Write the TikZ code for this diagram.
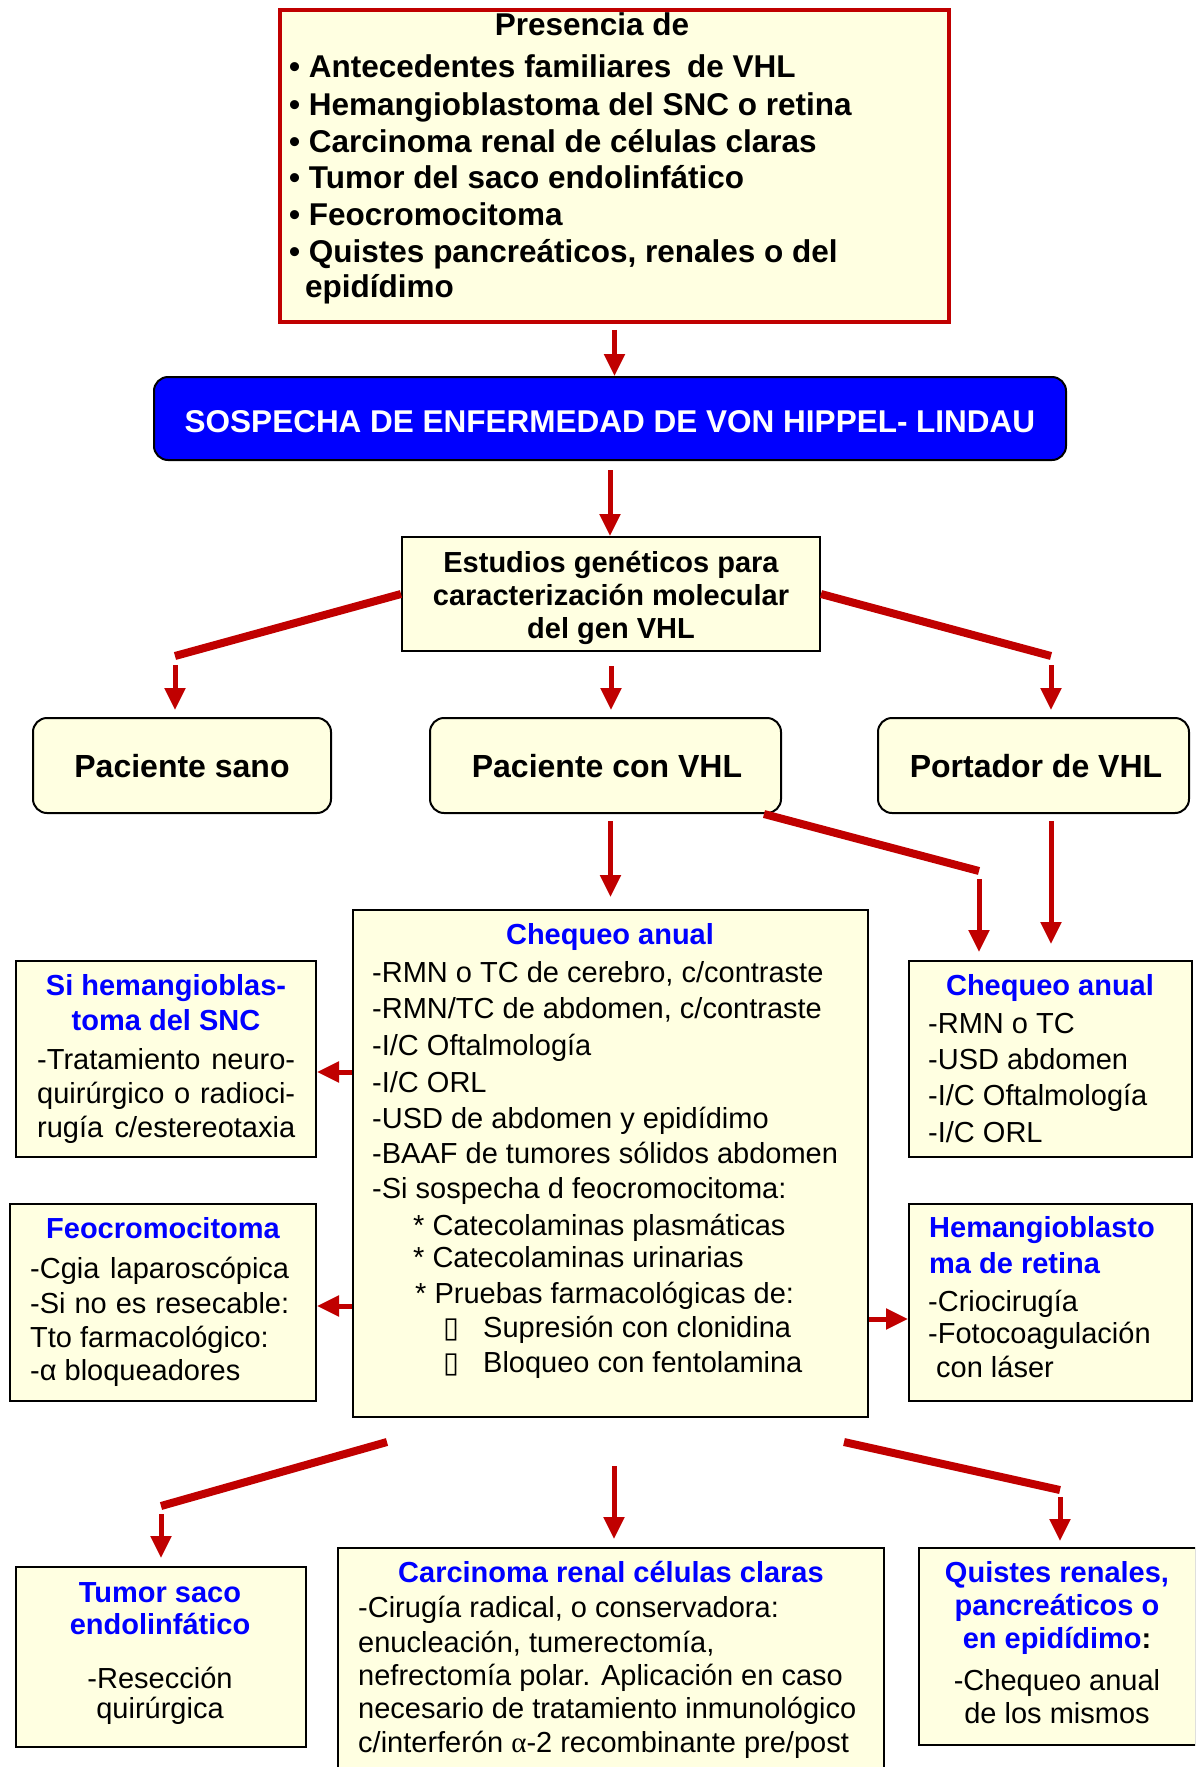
\documentclass[tikz,border=0pt]{standalone}
\usepackage{fontspec}
\setmainfont{Liberation Sans}
\newfontfamily\dvs{DejaVu Sans}
\newfontfamily\serifa{Liberation Serif}
\usetikzlibrary{arrows.meta,fit}
\definecolor{cream}{HTML}{FFFFE1}
\definecolor{arrred}{HTML}{C00000}
\definecolor{pureblue}{HTML}{0000FF}
\begin{document}
\begin{tikzpicture}[x=1pt,y=-1pt,
 box/.style={draw=black, line width=2pt, fill=cream, inner sep=0pt},
 rbox/.style={box, rounded corners=14pt},
 arr/.style={draw=arrred, line width=5pt, -{Triangle[width=20pt,length=22pt]}},
 diag/.style={draw=arrred, line width=8pt},
 T/.style={inner sep=0pt, anchor=base},
 TL/.style={inner sep=0pt, anchor=base west},
 f29/.style={font=\fontsize{29}{35}\selectfont},
 b29/.style={font=\fontsize{29}{35}\selectfont\bfseries},
 b31/.style={font=\fontsize{31.5}{37}\selectfont\bfseries},
 b32/.style={font=\fontsize{32}{37}\selectfont\bfseries},
 blu/.style={b29, text=pureblue},
]
\useasboundingbox (0,0) rectangle (1195,1767);
\clip (0,0) rectangle (1195,1767);
\fill[white] (0,0) rectangle (1195,1767);

% ---------- boxes ----------
\node[fit={(280,10)(949,322)}, box, draw=arrred, line width=3.5pt] (top) {};
\node[fit={(154,377)(1066,460)}, box, fill=pureblue, rounded corners=14pt] (sos) {};
\node[fit={(402,537)(820,651)}, box] (est) {};
\node[fit={(33,718)(331,813)}, rbox] (sano) {};
\node[fit={(430,718)(781,813)}, rbox] (con) {};
\node[fit={(878,718)(1189,813)}, rbox] (port) {};
\node[fit={(353,910)(868,1417)}, box] (big) {};
\node[fit={(16,961)(316,1157)}, box] (l1) {};
\node[fit={(10,1204)(316,1401)}, box] (feo) {};
\node[fit={(909,961)(1192,1157)}, box] (r1) {};
\node[fit={(909,1204)(1192,1401)}, box] (r2) {};
\node[fit={(16,1567)(306,1747)}, box] (tum) {};
\node[fit={(338,1548)(884,1800)}, box] (carc) {};
\node[fit={(919,1548)(1196,1745)}, box] (quis) {};

% ---------- texts ----------
\node[T,b31] (tp0) at (592,35) {Presencia de};
\node[TL,b31] (tp1) at (289,77) {• Antecedentes familiares\hspace{7pt} de VHL};
\node[TL,b31] (tp2) at (289,115) {• Hemangioblastoma del SNC o retina};
\node[TL,b31] (tp3) at (289,152) {• Carcinoma renal de células claras};
\node[TL,b31] (tp4) at (289,188) {• Tumor del saco endolinfático};
\node[TL,b31] (tp5) at (289,225) {• Feocromocitoma};
\node[TL,b31] (tp6) at (289,262) {• Quistes pancreáticos, renales o del};
\node[TL,b31] (tp7) at (305,297) {epidídimo};

\node[T,b31,text=white] (sost) at (610,432) {SOSPECHA DE ENFERMEDAD DE VON HIPPEL- LINDAU};

\node[T,b29] (es1) at (611,572) {Estudios genéticos para};
\node[T,b29] (es2) at (611,605) {caracterización molecular};
\node[T,b29] (es3) at (611,638) {del gen VHL};

\node[T,b32] (sanot) at (182,777) {Paciente sano};
\node[T,b32] (cont) at (607,777) {Paciente con VHL};
\node[T,b32] (portt) at (1036,777) {Portador de VHL};

\node[T,blu] (bg0) at (610,944) {Chequeo anual};
\node[TL,f29] (bg1) at (372,982) {-RMN o TC de cerebro, c/contraste};
\node[TL,f29] (bg2) at (372,1018) {-RMN/TC de abdomen, c/contraste};
\node[TL,f29] (bg3) at (372,1055) {-I/C Oftalmología};
\node[TL,f29] (bg4) at (372,1092) {-I/C ORL};
\node[TL,f29] (bg5) at (372,1128) {-USD de abdomen y epidídimo};
\node[TL,f29] (bg6) at (372,1163) {-BAAF de tumores sólidos abdomen};
\node[TL,f29] (bg7) at (372,1198) {-Si sospecha d feocromocitoma:};
\node[TL,f29] (bg8) at (413,1235) {* Catecolaminas plasmáticas};
\node[TL,f29] (bg9) at (413,1267) {* Catecolaminas urinarias};
\node[TL,f29] (bg10) at (415,1303) {* Pruebas farmacológicas de:};
\node[TL,f29] (bg11a) at (443,1337) {\dvs ▯};
\node[TL,f29] (bg11) at (483,1337) {Supresión con clonidina};
\node[TL,f29] (bg12a) at (443,1372) {\dvs ▯};
\node[TL,f29] (bg12) at (483,1372) {Bloqueo con fentolamina};

\node[T,blu] (l1t1) at (166,995) {Si hemangioblas-};
\node[T,blu] (l1t2) at (166,1030) {toma del SNC};
\node[TL,f29] (l1b1) at (37,1069) {\makebox[258pt][s]{-Tratamiento neuro-}};
\node[TL,f29] (l1b2) at (37,1103) {\makebox[258pt][s]{quirúrgico o radioci-}};
\node[TL,f29] (l1b3) at (37,1137) {\makebox[258pt][s]{rugía c/estereotaxia}};

\node[T,blu] (feot) at (163,1238) {Feocromocitoma};
\node[TL,f29] (feo1) at (30,1278) {\makebox[259pt][s]{-Cgia laparoscópica}};
\node[TL,f29] (feo2) at (30,1313) {\makebox[259pt][s]{-Si no es resecable:}};
\node[TL,f29] (feo3) at (30,1347) {Tto farmacológico:};
\node[TL,f29] (feo4) at (30,1380) {-α bloqueadores};

\node[T,blu] (r1t) at (1050,995) {Chequeo anual};
\node[TL,f29] (r1a) at (928,1033) {-RMN o TC};
\node[TL,f29] (r1b) at (928,1069) {-USD abdomen};
\node[TL,f29] (r1c) at (928,1105) {-I/C Oftalmología};
\node[TL,f29] (r1d) at (928,1142) {-I/C ORL};

\node[TL,blu] (r2t1) at (929,1237) {Hemangioblasto};
\node[TL,blu] (r2t2) at (929,1273) {ma de retina};
\node[TL,f29] (r2a) at (928,1311) {-Criocirugía};
\node[TL,f29] (r2b) at (928,1343) {-Fotocoagulación};
\node[TL,f29] (r2c) at (936,1377) {con láser};

\node[T,blu] (tut1) at (160,1602) {Tumor saco};
\node[T,blu] (tut2) at (160,1634) {endolinfático};
\node[T,f29] (tub1) at (160,1688) {-Resección};
\node[T,f29] (tub2) at (160,1718) {quirúrgica};

\node[T,blu] (cat) at (611,1582) {Carcinoma renal células claras};
\node[TL,f29] (ca1) at (358,1617) {-Cirugía radical, o conservadora:};
\node[TL,f29] (ca2) at (358,1652) {enucleación, tumerectomía,};
\node[TL,f29] (ca3) at (358,1685) {nefrectomía polar. Aplicación en caso};
\node[TL,f29] (ca4) at (358,1718) {necesario de tratamiento inmunológico};
\node[TL,f29] (ca5) at (358,1752) {c/interferón {\serifa α}-2 recombinante pre/post};

\node[T,blu] (qt1) at (1057,1582) {Quistes renales,};
\node[T,blu] (qt2) at (1057,1615) {pancreáticos o};
\node[T,blu] (qt3) at (1057,1648) {en epidídimo\textcolor{black}{:}};
\node[T,f29] (qb1) at (1057,1690) {-Chequeo anual};
\node[T,f29] (qb2) at (1057,1723) {de los mismos};

% ---------- connectors ----------
\coordinate (dL) at (175,656);
\coordinate (dR) at (1051,656);
\coordinate (cd) at (979,871);
\coordinate (yA) at (0,1072);
\coordinate (yB) at (0,1306);
\coordinate (yC) at (0,1319);
\coordinate (bls) at (387,1442);
\coordinate (ble) at (161,1506);
\coordinate (brs) at (844,1442);
\coordinate (bre) at (1060,1490);
\coordinate (bm) at (614,1466);

\draw[arr] ([yshift=-6pt]top.south) -- (top.south |- sos.north);
\draw[arr] ([yshift=-9pt]sos.south) -- (sos.south |- est.north);

\draw[diag] (est.west) -- (dL);
\draw[diag] (est.east) -- (dR);
\draw[arr, shorten >=7pt] ([yshift=-9pt]dL) -- (dL |- sano.north);
\draw[arr, shorten >=7pt] ([yshift=-14pt]est.south) -- (est.south |- con.north);
\draw[arr, shorten >=7pt] ([yshift=-9pt]dR) -- (dR |- port.north);

\draw[arr, shorten >=12pt] ([yshift=-7pt]big.north |- con.south) -- (big.north);
\draw[diag] ([xshift=-18pt]con.south east) -- (cd);
\draw[arr, shorten >=8pt] ([yshift=-8pt]cd) -- (cd |- r1.north);
\draw[arr, shorten >=16pt] ([yshift=-7pt]dR |- port.south) -- (dR |- r1.north);

\draw[arr] (big.west |- yA) -- (l1.east |- yA);
\draw[arr] (big.west |- yB) -- (feo.east |- yB);
\draw[arr] (big.east |- yC) -- (r2.west |- yC);

\draw[diag] (bls) -- (ble);
\draw[arr, shorten >=8pt] ([yshift=-8pt]ble) -- (ble |- tum.north);
\draw[arr, shorten >=8pt] (bm) -- (bm |- carc.north);
\draw[diag] (brs) -- (bre);
\draw[arr, shorten >=6pt] ([yshift=-7pt]bre) -- (bre |- quis.north);
\end{tikzpicture}
\end{document}
